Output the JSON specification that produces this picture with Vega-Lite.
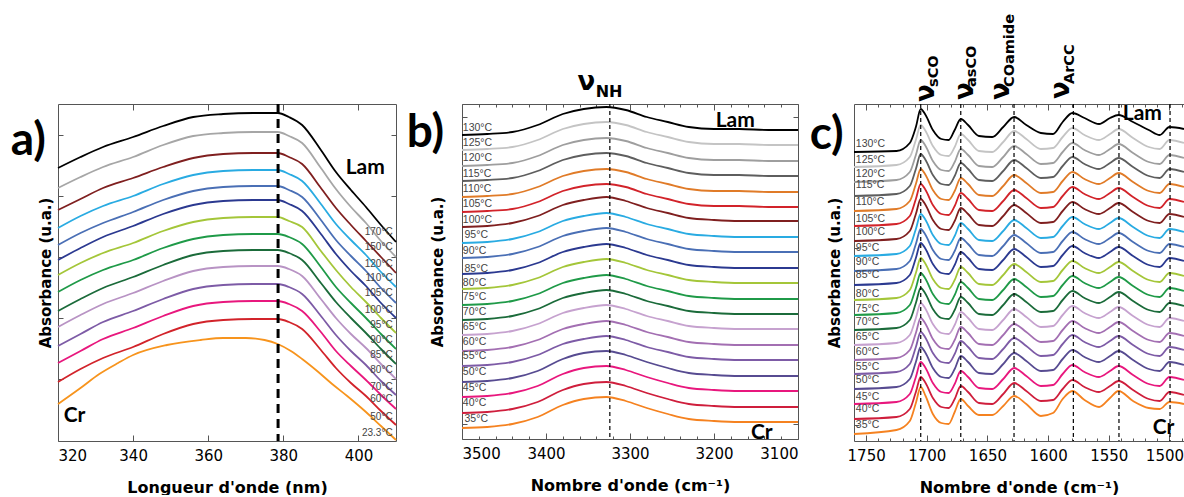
{
"$schema":"https://vega.github.io/schema/vega-lite/v6.json",
"background":"white",
"padding":{"left":10,"top":13,"right":0,"bottom":0},
"bounds":"flush",
"spacing":66,
"config":{"view":{"stroke":null},"axis":{"grid":false,"domainColor":"#555","tickColor":"#555","labelFont":"DejaVu Sans","labelColor":"#000","labelFontSize":15,"titleFont":"DejaVu Sans","titleFontWeight":"bold","titleColor":"#000"}},
"resolve":{"scale":{"color":"independent"}},
"datasets":{
"a":[
{"s":"a170","x":320,"y":273},{"s":"a170","x":326,"y":284},{"s":"a170","x":332,"y":294},{"s":"a170","x":340,"y":304},{"s":"a170","x":348,"y":315},{"s":"a170","x":356,"y":324},{"s":"a170","x":364,"y":327},{"s":"a170","x":372,"y":328},{"s":"a170","x":378.5,"y":328},{"s":"a170","x":381.5,"y":324},{"s":"a170","x":385,"y":316},{"s":"a170","x":390,"y":291},{"s":"a170","x":394,"y":269},{"s":"a170","x":398,"y":251},{"s":"a170","x":402,"y":234},{"s":"a170","x":406,"y":216},{"s":"a170","x":410,"y":199},
{"s":"a150","x":320,"y":253},{"s":"a150","x":326,"y":264},{"s":"a150","x":332,"y":274},{"s":"a150","x":340,"y":284},{"s":"a150","x":348,"y":296},{"s":"a150","x":356,"y":305},{"s":"a150","x":364,"y":308},{"s":"a150","x":372,"y":309},{"s":"a150","x":378.5,"y":309},{"s":"a150","x":381.5,"y":305},{"s":"a150","x":385,"y":298},{"s":"a150","x":390,"y":273},{"s":"a150","x":394,"y":252},{"s":"a150","x":398,"y":234},{"s":"a150","x":402,"y":218},{"s":"a150","x":406,"y":200},{"s":"a150","x":410,"y":184},
{"s":"a120","x":320,"y":231},{"s":"a120","x":326,"y":242},{"s":"a120","x":332,"y":253},{"s":"a120","x":340,"y":263},{"s":"a120","x":348,"y":274},{"s":"a120","x":356,"y":283},{"s":"a120","x":364,"y":287},{"s":"a120","x":372,"y":288},{"s":"a120","x":378.5,"y":288},{"s":"a120","x":381.5,"y":284},{"s":"a120","x":385,"y":277},{"s":"a120","x":390,"y":253},{"s":"a120","x":394,"y":233},{"s":"a120","x":398,"y":216},{"s":"a120","x":402,"y":200},{"s":"a120","x":406,"y":184},{"s":"a120","x":410,"y":168},
{"s":"a110","x":320,"y":213},{"s":"a110","x":326,"y":225},{"s":"a110","x":332,"y":235},{"s":"a110","x":340,"y":245},{"s":"a110","x":348,"y":257},{"s":"a110","x":356,"y":266},{"s":"a110","x":364,"y":270},{"s":"a110","x":372,"y":271},{"s":"a110","x":378.5,"y":271},{"s":"a110","x":381.5,"y":267},{"s":"a110","x":385,"y":260},{"s":"a110","x":390,"y":237},{"s":"a110","x":394,"y":217},{"s":"a110","x":398,"y":201},{"s":"a110","x":402,"y":186},{"s":"a110","x":406,"y":169},{"s":"a110","x":410,"y":154},
{"s":"a105","x":320,"y":196},{"s":"a105","x":326,"y":208},{"s":"a105","x":332,"y":218},{"s":"a105","x":340,"y":229},{"s":"a105","x":348,"y":241},{"s":"a105","x":356,"y":250},{"s":"a105","x":364,"y":254},{"s":"a105","x":372,"y":255},{"s":"a105","x":378.5,"y":255},{"s":"a105","x":381.5,"y":251},{"s":"a105","x":385,"y":244},{"s":"a105","x":390,"y":221},{"s":"a105","x":394,"y":201},{"s":"a105","x":398,"y":185},{"s":"a105","x":402,"y":170},{"s":"a105","x":406,"y":153},{"s":"a105","x":410,"y":138},
{"s":"a100","x":320,"y":181},{"s":"a100","x":326,"y":193},{"s":"a100","x":332,"y":204},{"s":"a100","x":340,"y":215},{"s":"a100","x":348,"y":227},{"s":"a100","x":356,"y":236},{"s":"a100","x":364,"y":240},{"s":"a100","x":372,"y":241},{"s":"a100","x":378.5,"y":241},{"s":"a100","x":381.5,"y":237},{"s":"a100","x":385,"y":230},{"s":"a100","x":390,"y":207},{"s":"a100","x":394,"y":187},{"s":"a100","x":398,"y":170},{"s":"a100","x":402,"y":155},{"s":"a100","x":406,"y":138},{"s":"a100","x":410,"y":123},
{"s":"a95","x":320,"y":166},{"s":"a95","x":326,"y":178},{"s":"a95","x":332,"y":188},{"s":"a95","x":340,"y":198},{"s":"a95","x":348,"y":210},{"s":"a95","x":356,"y":219},{"s":"a95","x":364,"y":223},{"s":"a95","x":372,"y":224},{"s":"a95","x":378.5,"y":224},{"s":"a95","x":381.5,"y":220},{"s":"a95","x":385,"y":214},{"s":"a95","x":390,"y":190},{"s":"a95","x":394,"y":171},{"s":"a95","x":398,"y":154},{"s":"a95","x":402,"y":139},{"s":"a95","x":406,"y":123},{"s":"a95","x":410,"y":108},
{"s":"a90","x":320,"y":149},{"s":"a90","x":326,"y":161},{"s":"a90","x":332,"y":171},{"s":"a90","x":340,"y":181},{"s":"a90","x":348,"y":193},{"s":"a90","x":356,"y":202},{"s":"a90","x":364,"y":206},{"s":"a90","x":372,"y":207},{"s":"a90","x":378.5,"y":207},{"s":"a90","x":381.5,"y":204},{"s":"a90","x":385,"y":197},{"s":"a90","x":390,"y":174},{"s":"a90","x":394,"y":154},{"s":"a90","x":398,"y":138},{"s":"a90","x":402,"y":123},{"s":"a90","x":406,"y":107},{"s":"a90","x":410,"y":92},
{"s":"a85","x":320,"y":130},{"s":"a85","x":326,"y":142},{"s":"a85","x":332,"y":153},{"s":"a85","x":340,"y":164},{"s":"a85","x":348,"y":176},{"s":"a85","x":356,"y":186},{"s":"a85","x":364,"y":190},{"s":"a85","x":372,"y":191},{"s":"a85","x":378.5,"y":191},{"s":"a85","x":381.5,"y":188},{"s":"a85","x":385,"y":181},{"s":"a85","x":390,"y":158},{"s":"a85","x":394,"y":139},{"s":"a85","x":398,"y":123},{"s":"a85","x":402,"y":108},{"s":"a85","x":406,"y":92},{"s":"a85","x":410,"y":77},
{"s":"a80","x":320,"y":114},{"s":"a80","x":326,"y":126},{"s":"a80","x":332,"y":137},{"s":"a80","x":340,"y":148},{"s":"a80","x":348,"y":160},{"s":"a80","x":356,"y":170},{"s":"a80","x":364,"y":174},{"s":"a80","x":372,"y":175},{"s":"a80","x":378.5,"y":175},{"s":"a80","x":381.5,"y":172},{"s":"a80","x":385,"y":165},{"s":"a80","x":390,"y":142},{"s":"a80","x":394,"y":123},{"s":"a80","x":398,"y":107},{"s":"a80","x":402,"y":93},{"s":"a80","x":406,"y":77},{"s":"a80","x":410,"y":62},
{"s":"a70","x":320,"y":95},{"s":"a70","x":326,"y":107},{"s":"a70","x":332,"y":119},{"s":"a70","x":340,"y":130},{"s":"a70","x":348,"y":142},{"s":"a70","x":356,"y":152},{"s":"a70","x":364,"y":156},{"s":"a70","x":372,"y":157},{"s":"a70","x":378.5,"y":157},{"s":"a70","x":381.5,"y":154},{"s":"a70","x":385,"y":147},{"s":"a70","x":390,"y":125},{"s":"a70","x":394,"y":106},{"s":"a70","x":398,"y":90},{"s":"a70","x":402,"y":76},{"s":"a70","x":406,"y":60},{"s":"a70","x":410,"y":46},
{"s":"a60","x":320,"y":78},{"s":"a60","x":326,"y":90},{"s":"a60","x":332,"y":102},{"s":"a60","x":340,"y":113},{"s":"a60","x":348,"y":125},{"s":"a60","x":356,"y":135},{"s":"a60","x":364,"y":139},{"s":"a60","x":372,"y":140},{"s":"a60","x":378.5,"y":140},{"s":"a60","x":381.5,"y":137},{"s":"a60","x":385,"y":130},{"s":"a60","x":390,"y":109},{"s":"a60","x":394,"y":90},{"s":"a60","x":398,"y":75},{"s":"a60","x":402,"y":61},{"s":"a60","x":406,"y":46},{"s":"a60","x":410,"y":32},
{"s":"a50","x":320,"y":59},{"s":"a50","x":326,"y":72},{"s":"a50","x":332,"y":83},{"s":"a50","x":340,"y":94},{"s":"a50","x":348,"y":107},{"s":"a50","x":356,"y":117},{"s":"a50","x":364,"y":121},{"s":"a50","x":372,"y":122},{"s":"a50","x":378.5,"y":122},{"s":"a50","x":381.5,"y":119},{"s":"a50","x":385,"y":112},{"s":"a50","x":390,"y":91},{"s":"a50","x":394,"y":73},{"s":"a50","x":398,"y":58},{"s":"a50","x":402,"y":45},{"s":"a50","x":406,"y":30},{"s":"a50","x":410,"y":16},
{"s":"a23","x":320,"y":37},{"s":"a23","x":326,"y":53},{"s":"a23","x":331,"y":67},{"s":"a23","x":336,"y":78},{"s":"a23","x":340,"y":86},{"s":"a23","x":349,"y":96},{"s":"a23","x":358,"y":101},{"s":"a23","x":364,"y":103},{"s":"a23","x":370,"y":103},{"s":"a23","x":375,"y":101},{"s":"a23","x":378.5,"y":97},{"s":"a23","x":382,"y":90},{"s":"a23","x":385,"y":82},{"s":"a23","x":389,"y":70},{"s":"a23","x":393,"y":57},{"s":"a23","x":397,"y":45},{"s":"a23","x":402,"y":29},{"s":"a23","x":406,"y":15},{"s":"a23","x":410,"y":1}
],
"b":[
{"s":"b130","x":3500,"y":304},{"s":"b130","x":3470,"y":305},{"s":"b130","x":3440,"y":307},{"s":"b130","x":3410,"y":314},{"s":"b130","x":3380,"y":325},{"s":"b130","x":3355,"y":330},{"s":"b130","x":3328,"y":332},{"s":"b130","x":3305,"y":329},{"s":"b130","x":3280,"y":322},{"s":"b130","x":3255,"y":317},{"s":"b130","x":3230,"y":312},{"s":"b130","x":3200,"y":310},{"s":"b130","x":3170,"y":310},{"s":"b130","x":3135,"y":309},{"s":"b130","x":3100,"y":309},
{"s":"b125","x":3500,"y":289},{"s":"b125","x":3470,"y":290},{"s":"b125","x":3440,"y":292},{"s":"b125","x":3410,"y":299},{"s":"b125","x":3380,"y":310},{"s":"b125","x":3355,"y":315},{"s":"b125","x":3328,"y":317},{"s":"b125","x":3305,"y":314},{"s":"b125","x":3280,"y":307},{"s":"b125","x":3255,"y":302},{"s":"b125","x":3230,"y":297},{"s":"b125","x":3200,"y":295},{"s":"b125","x":3170,"y":295},{"s":"b125","x":3135,"y":294},{"s":"b125","x":3100,"y":294},
{"s":"b120","x":3500,"y":273},{"s":"b120","x":3470,"y":274},{"s":"b120","x":3440,"y":276},{"s":"b120","x":3410,"y":283},{"s":"b120","x":3380,"y":294},{"s":"b120","x":3355,"y":299},{"s":"b120","x":3328,"y":301},{"s":"b120","x":3305,"y":298},{"s":"b120","x":3280,"y":291},{"s":"b120","x":3255,"y":286},{"s":"b120","x":3230,"y":281},{"s":"b120","x":3200,"y":279},{"s":"b120","x":3170,"y":279},{"s":"b120","x":3135,"y":278},{"s":"b120","x":3100,"y":278},
{"s":"b115","x":3500,"y":258},{"s":"b115","x":3470,"y":259},{"s":"b115","x":3440,"y":261},{"s":"b115","x":3410,"y":268},{"s":"b115","x":3380,"y":279},{"s":"b115","x":3355,"y":284},{"s":"b115","x":3328,"y":286},{"s":"b115","x":3305,"y":283},{"s":"b115","x":3280,"y":276},{"s":"b115","x":3255,"y":271},{"s":"b115","x":3230,"y":266},{"s":"b115","x":3200,"y":264},{"s":"b115","x":3170,"y":264},{"s":"b115","x":3135,"y":263},{"s":"b115","x":3100,"y":263},
{"s":"b110","x":3500,"y":242},{"s":"b110","x":3470,"y":243},{"s":"b110","x":3440,"y":245},{"s":"b110","x":3410,"y":252},{"s":"b110","x":3380,"y":263},{"s":"b110","x":3355,"y":268},{"s":"b110","x":3328,"y":270},{"s":"b110","x":3305,"y":267},{"s":"b110","x":3280,"y":260},{"s":"b110","x":3255,"y":255},{"s":"b110","x":3230,"y":250},{"s":"b110","x":3200,"y":248},{"s":"b110","x":3170,"y":248},{"s":"b110","x":3135,"y":247},{"s":"b110","x":3100,"y":247},
{"s":"b105","x":3500,"y":227},{"s":"b105","x":3470,"y":228},{"s":"b105","x":3440,"y":230},{"s":"b105","x":3410,"y":237},{"s":"b105","x":3380,"y":248},{"s":"b105","x":3355,"y":253},{"s":"b105","x":3328,"y":255},{"s":"b105","x":3305,"y":252},{"s":"b105","x":3280,"y":245},{"s":"b105","x":3255,"y":240},{"s":"b105","x":3230,"y":235},{"s":"b105","x":3200,"y":233},{"s":"b105","x":3170,"y":233},{"s":"b105","x":3135,"y":232},{"s":"b105","x":3100,"y":232},
{"s":"b100","x":3500,"y":212},{"s":"b100","x":3470,"y":213},{"s":"b100","x":3440,"y":216},{"s":"b100","x":3410,"y":223},{"s":"b100","x":3380,"y":234},{"s":"b100","x":3355,"y":239},{"s":"b100","x":3328,"y":242},{"s":"b100","x":3305,"y":238},{"s":"b100","x":3280,"y":231},{"s":"b100","x":3255,"y":226},{"s":"b100","x":3230,"y":221},{"s":"b100","x":3200,"y":219},{"s":"b100","x":3170,"y":218},{"s":"b100","x":3135,"y":218},{"s":"b100","x":3100,"y":218},
{"s":"b95","x":3500,"y":196},{"s":"b95","x":3470,"y":197},{"s":"b95","x":3440,"y":200},{"s":"b95","x":3410,"y":207},{"s":"b95","x":3380,"y":218},{"s":"b95","x":3355,"y":223},{"s":"b95","x":3328,"y":226},{"s":"b95","x":3305,"y":222},{"s":"b95","x":3280,"y":215},{"s":"b95","x":3255,"y":210},{"s":"b95","x":3230,"y":205},{"s":"b95","x":3200,"y":203},{"s":"b95","x":3170,"y":202},{"s":"b95","x":3135,"y":202},{"s":"b95","x":3100,"y":202},
{"s":"b90","x":3500,"y":181},{"s":"b90","x":3470,"y":182},{"s":"b90","x":3440,"y":185},{"s":"b90","x":3410,"y":192},{"s":"b90","x":3380,"y":203},{"s":"b90","x":3355,"y":208},{"s":"b90","x":3328,"y":211},{"s":"b90","x":3305,"y":207},{"s":"b90","x":3280,"y":200},{"s":"b90","x":3255,"y":195},{"s":"b90","x":3230,"y":190},{"s":"b90","x":3200,"y":188},{"s":"b90","x":3170,"y":187},{"s":"b90","x":3135,"y":187},{"s":"b90","x":3100,"y":187},
{"s":"b85","x":3500,"y":165},{"s":"b85","x":3470,"y":166},{"s":"b85","x":3440,"y":169},{"s":"b85","x":3410,"y":176},{"s":"b85","x":3380,"y":187},{"s":"b85","x":3355,"y":192},{"s":"b85","x":3328,"y":195},{"s":"b85","x":3305,"y":191},{"s":"b85","x":3280,"y":184},{"s":"b85","x":3255,"y":179},{"s":"b85","x":3230,"y":174},{"s":"b85","x":3200,"y":172},{"s":"b85","x":3170,"y":171},{"s":"b85","x":3135,"y":171},{"s":"b85","x":3100,"y":171},
{"s":"b80","x":3500,"y":150},{"s":"b80","x":3470,"y":151},{"s":"b80","x":3440,"y":154},{"s":"b80","x":3410,"y":161},{"s":"b80","x":3380,"y":172},{"s":"b80","x":3355,"y":177},{"s":"b80","x":3328,"y":180},{"s":"b80","x":3305,"y":176},{"s":"b80","x":3280,"y":169},{"s":"b80","x":3255,"y":164},{"s":"b80","x":3230,"y":159},{"s":"b80","x":3200,"y":157},{"s":"b80","x":3170,"y":156},{"s":"b80","x":3135,"y":156},{"s":"b80","x":3100,"y":156},
{"s":"b75","x":3500,"y":134},{"s":"b75","x":3470,"y":135},{"s":"b75","x":3440,"y":138},{"s":"b75","x":3410,"y":145},{"s":"b75","x":3380,"y":156},{"s":"b75","x":3355,"y":161},{"s":"b75","x":3328,"y":164},{"s":"b75","x":3305,"y":160},{"s":"b75","x":3280,"y":153},{"s":"b75","x":3255,"y":148},{"s":"b75","x":3230,"y":143},{"s":"b75","x":3200,"y":141},{"s":"b75","x":3170,"y":140},{"s":"b75","x":3135,"y":140},{"s":"b75","x":3100,"y":140},
{"s":"b70","x":3500,"y":119},{"s":"b70","x":3470,"y":120},{"s":"b70","x":3440,"y":123},{"s":"b70","x":3410,"y":130},{"s":"b70","x":3380,"y":141},{"s":"b70","x":3355,"y":146},{"s":"b70","x":3328,"y":149},{"s":"b70","x":3305,"y":145},{"s":"b70","x":3280,"y":138},{"s":"b70","x":3255,"y":133},{"s":"b70","x":3230,"y":128},{"s":"b70","x":3200,"y":126},{"s":"b70","x":3170,"y":125},{"s":"b70","x":3135,"y":125},{"s":"b70","x":3100,"y":125},
{"s":"b65","x":3500,"y":104},{"s":"b65","x":3470,"y":105},{"s":"b65","x":3440,"y":108},{"s":"b65","x":3410,"y":115},{"s":"b65","x":3380,"y":126},{"s":"b65","x":3355,"y":131},{"s":"b65","x":3328,"y":134},{"s":"b65","x":3305,"y":130},{"s":"b65","x":3280,"y":123},{"s":"b65","x":3255,"y":118},{"s":"b65","x":3230,"y":113},{"s":"b65","x":3200,"y":111},{"s":"b65","x":3170,"y":110},{"s":"b65","x":3135,"y":110},{"s":"b65","x":3100,"y":110},
{"s":"b60","x":3500,"y":88},{"s":"b60","x":3470,"y":89},{"s":"b60","x":3440,"y":92},{"s":"b60","x":3410,"y":99},{"s":"b60","x":3380,"y":110},{"s":"b60","x":3355,"y":115},{"s":"b60","x":3328,"y":118},{"s":"b60","x":3305,"y":114},{"s":"b60","x":3280,"y":107},{"s":"b60","x":3255,"y":102},{"s":"b60","x":3230,"y":97},{"s":"b60","x":3200,"y":95},{"s":"b60","x":3170,"y":94},{"s":"b60","x":3135,"y":94},{"s":"b60","x":3100,"y":94},
{"s":"b55","x":3500,"y":73},{"s":"b55","x":3470,"y":74},{"s":"b55","x":3440,"y":77},{"s":"b55","x":3410,"y":84},{"s":"b55","x":3380,"y":95},{"s":"b55","x":3355,"y":100},{"s":"b55","x":3328,"y":103},{"s":"b55","x":3305,"y":99},{"s":"b55","x":3280,"y":92},{"s":"b55","x":3255,"y":87},{"s":"b55","x":3230,"y":82},{"s":"b55","x":3200,"y":80},{"s":"b55","x":3170,"y":79},{"s":"b55","x":3135,"y":79},{"s":"b55","x":3100,"y":79},
{"s":"b50","x":3500,"y":57},{"s":"b50","x":3470,"y":58},{"s":"b50","x":3440,"y":61},{"s":"b50","x":3410,"y":68},{"s":"b50","x":3380,"y":80},{"s":"b50","x":3355,"y":86},{"s":"b50","x":3328,"y":88},{"s":"b50","x":3305,"y":84},{"s":"b50","x":3280,"y":77},{"s":"b50","x":3255,"y":71},{"s":"b50","x":3230,"y":66},{"s":"b50","x":3200,"y":64},{"s":"b50","x":3170,"y":63},{"s":"b50","x":3135,"y":63},{"s":"b50","x":3100,"y":63},
{"s":"b45","x":3500,"y":42},{"s":"b45","x":3470,"y":43},{"s":"b45","x":3440,"y":46},{"s":"b45","x":3410,"y":53},{"s":"b45","x":3380,"y":65},{"s":"b45","x":3355,"y":71},{"s":"b45","x":3328,"y":73},{"s":"b45","x":3305,"y":69},{"s":"b45","x":3280,"y":62},{"s":"b45","x":3255,"y":56},{"s":"b45","x":3230,"y":51},{"s":"b45","x":3200,"y":49},{"s":"b45","x":3170,"y":48},{"s":"b45","x":3135,"y":48},{"s":"b45","x":3100,"y":48},
{"s":"b40","x":3500,"y":26},{"s":"b40","x":3470,"y":27},{"s":"b40","x":3440,"y":30},{"s":"b40","x":3410,"y":37},{"s":"b40","x":3380,"y":49},{"s":"b40","x":3355,"y":55},{"s":"b40","x":3328,"y":57},{"s":"b40","x":3305,"y":53},{"s":"b40","x":3280,"y":46},{"s":"b40","x":3255,"y":40},{"s":"b40","x":3230,"y":35},{"s":"b40","x":3200,"y":33},{"s":"b40","x":3170,"y":32},{"s":"b40","x":3135,"y":32},{"s":"b40","x":3100,"y":32},
{"s":"b35","x":3500,"y":11},{"s":"b35","x":3470,"y":12},{"s":"b35","x":3440,"y":15},{"s":"b35","x":3410,"y":22},{"s":"b35","x":3380,"y":34},{"s":"b35","x":3355,"y":40},{"s":"b35","x":3328,"y":42},{"s":"b35","x":3305,"y":38},{"s":"b35","x":3280,"y":31},{"s":"b35","x":3255,"y":25},{"s":"b35","x":3230,"y":20},{"s":"b35","x":3200,"y":18},{"s":"b35","x":3170,"y":17},{"s":"b35","x":3135,"y":17},{"s":"b35","x":3100,"y":17}
],
"c":[
{"s":"c130","x":1760,"y":289},{"s":"c130","x":1725,"y":290},{"s":"c130","x":1714,"y":298},{"s":"c130","x":1709,"y":314},{"s":"c130","x":1705,"y":332},{"s":"c130","x":1701,"y":326},{"s":"c130","x":1695,"y":311},{"s":"c130","x":1688,"y":302},{"s":"c130","x":1682,"y":301},{"s":"c130","x":1677,"y":311},{"s":"c130","x":1672,"y":322},{"s":"c130","x":1666,"y":316},{"s":"c130","x":1657,"y":305},{"s":"c130","x":1646,"y":304},{"s":"c130","x":1637,"y":314},{"s":"c130","x":1628,"y":324},{"s":"c130","x":1618,"y":316},{"s":"c130","x":1606,"y":308},{"s":"c130","x":1596,"y":307},{"s":"c130","x":1588,"y":319},{"s":"c130","x":1580,"y":328},{"s":"c130","x":1570,"y":323},{"s":"c130","x":1558,"y":317},{"s":"c130","x":1549,"y":323},{"s":"c130","x":1542,"y":326},{"s":"c130","x":1530,"y":319},{"s":"c130","x":1517,"y":311},{"s":"c130","x":1508,"y":306},{"s":"c130","x":1500,"y":314},{"s":"c130","x":1488,"y":312},
{"s":"c125","x":1760,"y":274},{"s":"c125","x":1725,"y":276},{"s":"c125","x":1714,"y":284},{"s":"c125","x":1709,"y":301},{"s":"c125","x":1705,"y":316},{"s":"c125","x":1701,"y":310},{"s":"c125","x":1695,"y":295},{"s":"c125","x":1688,"y":286},{"s":"c125","x":1682,"y":285},{"s":"c125","x":1677,"y":294},{"s":"c125","x":1672,"y":307},{"s":"c125","x":1666,"y":301},{"s":"c125","x":1657,"y":290},{"s":"c125","x":1646,"y":289},{"s":"c125","x":1637,"y":299},{"s":"c125","x":1628,"y":310},{"s":"c125","x":1618,"y":302},{"s":"c125","x":1606,"y":292},{"s":"c125","x":1596,"y":293},{"s":"c125","x":1588,"y":304},{"s":"c125","x":1580,"y":313},{"s":"c125","x":1570,"y":306},{"s":"c125","x":1558,"y":301},{"s":"c125","x":1549,"y":307},{"s":"c125","x":1542,"y":312},{"s":"c125","x":1530,"y":303},{"s":"c125","x":1517,"y":294},{"s":"c125","x":1508,"y":292},{"s":"c125","x":1500,"y":301},{"s":"c125","x":1488,"y":298},
{"s":"c120","x":1760,"y":259},{"s":"c120","x":1725,"y":261},{"s":"c120","x":1714,"y":269},{"s":"c120","x":1709,"y":286},{"s":"c120","x":1705,"y":301},{"s":"c120","x":1701,"y":295},{"s":"c120","x":1695,"y":280},{"s":"c120","x":1688,"y":271},{"s":"c120","x":1682,"y":270},{"s":"c120","x":1677,"y":279},{"s":"c120","x":1672,"y":292},{"s":"c120","x":1666,"y":286},{"s":"c120","x":1657,"y":275},{"s":"c120","x":1646,"y":274},{"s":"c120","x":1637,"y":284},{"s":"c120","x":1628,"y":295},{"s":"c120","x":1618,"y":287},{"s":"c120","x":1606,"y":277},{"s":"c120","x":1596,"y":278},{"s":"c120","x":1588,"y":289},{"s":"c120","x":1580,"y":298},{"s":"c120","x":1570,"y":291},{"s":"c120","x":1558,"y":286},{"s":"c120","x":1549,"y":292},{"s":"c120","x":1542,"y":297},{"s":"c120","x":1530,"y":288},{"s":"c120","x":1517,"y":279},{"s":"c120","x":1508,"y":277},{"s":"c120","x":1500,"y":286},{"s":"c120","x":1488,"y":283},
{"s":"c115","x":1760,"y":245},{"s":"c115","x":1725,"y":247},{"s":"c115","x":1714,"y":255},{"s":"c115","x":1709,"y":272},{"s":"c115","x":1705,"y":287},{"s":"c115","x":1701,"y":281},{"s":"c115","x":1695,"y":266},{"s":"c115","x":1688,"y":257},{"s":"c115","x":1682,"y":256},{"s":"c115","x":1677,"y":265},{"s":"c115","x":1672,"y":278},{"s":"c115","x":1666,"y":272},{"s":"c115","x":1657,"y":261},{"s":"c115","x":1646,"y":260},{"s":"c115","x":1637,"y":270},{"s":"c115","x":1628,"y":281},{"s":"c115","x":1618,"y":273},{"s":"c115","x":1606,"y":263},{"s":"c115","x":1596,"y":264},{"s":"c115","x":1588,"y":275},{"s":"c115","x":1580,"y":284},{"s":"c115","x":1570,"y":277},{"s":"c115","x":1558,"y":272},{"s":"c115","x":1549,"y":278},{"s":"c115","x":1542,"y":283},{"s":"c115","x":1530,"y":274},{"s":"c115","x":1517,"y":265},{"s":"c115","x":1508,"y":263},{"s":"c115","x":1500,"y":272},{"s":"c115","x":1488,"y":269},
{"s":"c110","x":1760,"y":230},{"s":"c110","x":1725,"y":232},{"s":"c110","x":1714,"y":240},{"s":"c110","x":1709,"y":257},{"s":"c110","x":1705,"y":272},{"s":"c110","x":1701,"y":266},{"s":"c110","x":1695,"y":251},{"s":"c110","x":1688,"y":242},{"s":"c110","x":1682,"y":241},{"s":"c110","x":1677,"y":250},{"s":"c110","x":1672,"y":263},{"s":"c110","x":1666,"y":257},{"s":"c110","x":1657,"y":246},{"s":"c110","x":1646,"y":245},{"s":"c110","x":1637,"y":255},{"s":"c110","x":1628,"y":266},{"s":"c110","x":1618,"y":258},{"s":"c110","x":1606,"y":248},{"s":"c110","x":1596,"y":249},{"s":"c110","x":1588,"y":260},{"s":"c110","x":1580,"y":269},{"s":"c110","x":1570,"y":262},{"s":"c110","x":1558,"y":257},{"s":"c110","x":1549,"y":263},{"s":"c110","x":1542,"y":268},{"s":"c110","x":1530,"y":259},{"s":"c110","x":1517,"y":250},{"s":"c110","x":1508,"y":248},{"s":"c110","x":1500,"y":257},{"s":"c110","x":1488,"y":254},
{"s":"c105","x":1760,"y":215},{"s":"c105","x":1725,"y":217},{"s":"c105","x":1714,"y":225},{"s":"c105","x":1709,"y":242},{"s":"c105","x":1705,"y":257},{"s":"c105","x":1701,"y":251},{"s":"c105","x":1695,"y":236},{"s":"c105","x":1688,"y":227},{"s":"c105","x":1682,"y":226},{"s":"c105","x":1677,"y":235},{"s":"c105","x":1672,"y":248},{"s":"c105","x":1666,"y":242},{"s":"c105","x":1657,"y":231},{"s":"c105","x":1646,"y":230},{"s":"c105","x":1637,"y":240},{"s":"c105","x":1628,"y":251},{"s":"c105","x":1618,"y":243},{"s":"c105","x":1606,"y":233},{"s":"c105","x":1596,"y":234},{"s":"c105","x":1588,"y":245},{"s":"c105","x":1580,"y":254},{"s":"c105","x":1570,"y":247},{"s":"c105","x":1558,"y":242},{"s":"c105","x":1549,"y":248},{"s":"c105","x":1542,"y":253},{"s":"c105","x":1530,"y":244},{"s":"c105","x":1517,"y":235},{"s":"c105","x":1508,"y":233},{"s":"c105","x":1500,"y":242},{"s":"c105","x":1488,"y":239},
{"s":"c100","x":1760,"y":200},{"s":"c100","x":1725,"y":202},{"s":"c100","x":1714,"y":210},{"s":"c100","x":1709,"y":227},{"s":"c100","x":1705,"y":242},{"s":"c100","x":1701,"y":236},{"s":"c100","x":1695,"y":221},{"s":"c100","x":1688,"y":212},{"s":"c100","x":1682,"y":211},{"s":"c100","x":1677,"y":220},{"s":"c100","x":1672,"y":233},{"s":"c100","x":1666,"y":227},{"s":"c100","x":1657,"y":216},{"s":"c100","x":1646,"y":215},{"s":"c100","x":1637,"y":225},{"s":"c100","x":1628,"y":236},{"s":"c100","x":1618,"y":228},{"s":"c100","x":1606,"y":218},{"s":"c100","x":1596,"y":219},{"s":"c100","x":1588,"y":230},{"s":"c100","x":1580,"y":239},{"s":"c100","x":1570,"y":232},{"s":"c100","x":1558,"y":227},{"s":"c100","x":1549,"y":233},{"s":"c100","x":1542,"y":238},{"s":"c100","x":1530,"y":229},{"s":"c100","x":1517,"y":220},{"s":"c100","x":1508,"y":218},{"s":"c100","x":1500,"y":227},{"s":"c100","x":1488,"y":224},
{"s":"c95","x":1760,"y":185},{"s":"c95","x":1725,"y":187},{"s":"c95","x":1714,"y":195},{"s":"c95","x":1709,"y":212},{"s":"c95","x":1705,"y":227},{"s":"c95","x":1701,"y":221},{"s":"c95","x":1695,"y":206},{"s":"c95","x":1688,"y":197},{"s":"c95","x":1682,"y":196},{"s":"c95","x":1677,"y":205},{"s":"c95","x":1672,"y":218},{"s":"c95","x":1666,"y":212},{"s":"c95","x":1657,"y":201},{"s":"c95","x":1646,"y":200},{"s":"c95","x":1637,"y":210},{"s":"c95","x":1628,"y":221},{"s":"c95","x":1618,"y":213},{"s":"c95","x":1606,"y":203},{"s":"c95","x":1596,"y":204},{"s":"c95","x":1588,"y":215},{"s":"c95","x":1580,"y":224},{"s":"c95","x":1570,"y":217},{"s":"c95","x":1558,"y":212},{"s":"c95","x":1549,"y":218},{"s":"c95","x":1542,"y":223},{"s":"c95","x":1530,"y":214},{"s":"c95","x":1517,"y":205},{"s":"c95","x":1508,"y":203},{"s":"c95","x":1500,"y":212},{"s":"c95","x":1488,"y":209},
{"s":"c90","x":1760,"y":170},{"s":"c90","x":1725,"y":172},{"s":"c90","x":1714,"y":180},{"s":"c90","x":1709,"y":197},{"s":"c90","x":1705,"y":212},{"s":"c90","x":1701,"y":206},{"s":"c90","x":1695,"y":191},{"s":"c90","x":1688,"y":182},{"s":"c90","x":1682,"y":181},{"s":"c90","x":1677,"y":190},{"s":"c90","x":1672,"y":203},{"s":"c90","x":1666,"y":197},{"s":"c90","x":1657,"y":186},{"s":"c90","x":1646,"y":185},{"s":"c90","x":1637,"y":195},{"s":"c90","x":1628,"y":206},{"s":"c90","x":1618,"y":198},{"s":"c90","x":1606,"y":188},{"s":"c90","x":1596,"y":189},{"s":"c90","x":1588,"y":200},{"s":"c90","x":1580,"y":209},{"s":"c90","x":1570,"y":202},{"s":"c90","x":1558,"y":197},{"s":"c90","x":1549,"y":203},{"s":"c90","x":1542,"y":208},{"s":"c90","x":1530,"y":199},{"s":"c90","x":1517,"y":190},{"s":"c90","x":1508,"y":188},{"s":"c90","x":1500,"y":197},{"s":"c90","x":1488,"y":194},
{"s":"c85","x":1760,"y":156},{"s":"c85","x":1725,"y":158},{"s":"c85","x":1714,"y":166},{"s":"c85","x":1709,"y":183},{"s":"c85","x":1705,"y":198},{"s":"c85","x":1701,"y":192},{"s":"c85","x":1695,"y":177},{"s":"c85","x":1688,"y":168},{"s":"c85","x":1682,"y":167},{"s":"c85","x":1677,"y":176},{"s":"c85","x":1672,"y":189},{"s":"c85","x":1666,"y":183},{"s":"c85","x":1657,"y":172},{"s":"c85","x":1646,"y":171},{"s":"c85","x":1637,"y":181},{"s":"c85","x":1628,"y":192},{"s":"c85","x":1618,"y":184},{"s":"c85","x":1606,"y":174},{"s":"c85","x":1596,"y":175},{"s":"c85","x":1588,"y":186},{"s":"c85","x":1580,"y":195},{"s":"c85","x":1570,"y":188},{"s":"c85","x":1558,"y":183},{"s":"c85","x":1549,"y":189},{"s":"c85","x":1542,"y":194},{"s":"c85","x":1530,"y":185},{"s":"c85","x":1517,"y":176},{"s":"c85","x":1508,"y":174},{"s":"c85","x":1500,"y":183},{"s":"c85","x":1488,"y":180},
{"s":"c80","x":1760,"y":141},{"s":"c80","x":1725,"y":143},{"s":"c80","x":1714,"y":151},{"s":"c80","x":1709,"y":168},{"s":"c80","x":1705,"y":183},{"s":"c80","x":1701,"y":177},{"s":"c80","x":1695,"y":162},{"s":"c80","x":1688,"y":153},{"s":"c80","x":1682,"y":152},{"s":"c80","x":1677,"y":161},{"s":"c80","x":1672,"y":174},{"s":"c80","x":1666,"y":168},{"s":"c80","x":1657,"y":157},{"s":"c80","x":1646,"y":156},{"s":"c80","x":1637,"y":166},{"s":"c80","x":1628,"y":177},{"s":"c80","x":1618,"y":169},{"s":"c80","x":1606,"y":159},{"s":"c80","x":1596,"y":160},{"s":"c80","x":1588,"y":171},{"s":"c80","x":1580,"y":180},{"s":"c80","x":1570,"y":173},{"s":"c80","x":1558,"y":168},{"s":"c80","x":1549,"y":174},{"s":"c80","x":1542,"y":179},{"s":"c80","x":1530,"y":170},{"s":"c80","x":1517,"y":161},{"s":"c80","x":1508,"y":159},{"s":"c80","x":1500,"y":168},{"s":"c80","x":1488,"y":165},
{"s":"c75","x":1760,"y":126},{"s":"c75","x":1725,"y":128},{"s":"c75","x":1714,"y":136},{"s":"c75","x":1709,"y":153},{"s":"c75","x":1705,"y":168},{"s":"c75","x":1701,"y":162},{"s":"c75","x":1695,"y":147},{"s":"c75","x":1688,"y":138},{"s":"c75","x":1682,"y":137},{"s":"c75","x":1677,"y":146},{"s":"c75","x":1672,"y":159},{"s":"c75","x":1666,"y":153},{"s":"c75","x":1657,"y":142},{"s":"c75","x":1646,"y":141},{"s":"c75","x":1637,"y":151},{"s":"c75","x":1628,"y":162},{"s":"c75","x":1618,"y":154},{"s":"c75","x":1606,"y":144},{"s":"c75","x":1596,"y":145},{"s":"c75","x":1588,"y":156},{"s":"c75","x":1580,"y":165},{"s":"c75","x":1570,"y":158},{"s":"c75","x":1558,"y":153},{"s":"c75","x":1549,"y":159},{"s":"c75","x":1542,"y":164},{"s":"c75","x":1530,"y":155},{"s":"c75","x":1517,"y":146},{"s":"c75","x":1508,"y":144},{"s":"c75","x":1500,"y":153},{"s":"c75","x":1488,"y":150},
{"s":"c70","x":1760,"y":111},{"s":"c70","x":1725,"y":113},{"s":"c70","x":1714,"y":121},{"s":"c70","x":1709,"y":138},{"s":"c70","x":1705,"y":153},{"s":"c70","x":1701,"y":147},{"s":"c70","x":1695,"y":132},{"s":"c70","x":1688,"y":123},{"s":"c70","x":1682,"y":122},{"s":"c70","x":1677,"y":131},{"s":"c70","x":1672,"y":144},{"s":"c70","x":1666,"y":138},{"s":"c70","x":1657,"y":127},{"s":"c70","x":1646,"y":126},{"s":"c70","x":1637,"y":136},{"s":"c70","x":1628,"y":147},{"s":"c70","x":1618,"y":139},{"s":"c70","x":1606,"y":129},{"s":"c70","x":1596,"y":130},{"s":"c70","x":1588,"y":141},{"s":"c70","x":1580,"y":150},{"s":"c70","x":1570,"y":143},{"s":"c70","x":1558,"y":138},{"s":"c70","x":1549,"y":144},{"s":"c70","x":1542,"y":149},{"s":"c70","x":1530,"y":140},{"s":"c70","x":1517,"y":131},{"s":"c70","x":1508,"y":129},{"s":"c70","x":1500,"y":138},{"s":"c70","x":1488,"y":135},
{"s":"c65","x":1760,"y":96},{"s":"c65","x":1725,"y":98},{"s":"c65","x":1714,"y":106},{"s":"c65","x":1709,"y":123},{"s":"c65","x":1705,"y":138},{"s":"c65","x":1701,"y":132},{"s":"c65","x":1695,"y":117},{"s":"c65","x":1688,"y":108},{"s":"c65","x":1682,"y":107},{"s":"c65","x":1677,"y":116},{"s":"c65","x":1672,"y":129},{"s":"c65","x":1666,"y":123},{"s":"c65","x":1657,"y":112},{"s":"c65","x":1646,"y":111},{"s":"c65","x":1637,"y":121},{"s":"c65","x":1628,"y":132},{"s":"c65","x":1618,"y":124},{"s":"c65","x":1606,"y":114},{"s":"c65","x":1596,"y":115},{"s":"c65","x":1588,"y":126},{"s":"c65","x":1580,"y":135},{"s":"c65","x":1570,"y":128},{"s":"c65","x":1558,"y":123},{"s":"c65","x":1549,"y":129},{"s":"c65","x":1542,"y":134},{"s":"c65","x":1530,"y":125},{"s":"c65","x":1517,"y":116},{"s":"c65","x":1508,"y":114},{"s":"c65","x":1500,"y":123},{"s":"c65","x":1488,"y":120},
{"s":"c60","x":1760,"y":81},{"s":"c60","x":1725,"y":83},{"s":"c60","x":1714,"y":91},{"s":"c60","x":1709,"y":108},{"s":"c60","x":1705,"y":123},{"s":"c60","x":1701,"y":117},{"s":"c60","x":1695,"y":102},{"s":"c60","x":1688,"y":93},{"s":"c60","x":1682,"y":92},{"s":"c60","x":1677,"y":101},{"s":"c60","x":1672,"y":114},{"s":"c60","x":1666,"y":108},{"s":"c60","x":1657,"y":97},{"s":"c60","x":1646,"y":96},{"s":"c60","x":1637,"y":106},{"s":"c60","x":1628,"y":117},{"s":"c60","x":1618,"y":109},{"s":"c60","x":1606,"y":99},{"s":"c60","x":1596,"y":100},{"s":"c60","x":1588,"y":111},{"s":"c60","x":1580,"y":120},{"s":"c60","x":1570,"y":113},{"s":"c60","x":1558,"y":108},{"s":"c60","x":1549,"y":114},{"s":"c60","x":1542,"y":119},{"s":"c60","x":1530,"y":110},{"s":"c60","x":1517,"y":101},{"s":"c60","x":1508,"y":99},{"s":"c60","x":1500,"y":108},{"s":"c60","x":1488,"y":105},
{"s":"c55","x":1760,"y":67},{"s":"c55","x":1725,"y":69},{"s":"c55","x":1714,"y":77},{"s":"c55","x":1709,"y":94},{"s":"c55","x":1705,"y":109},{"s":"c55","x":1701,"y":103},{"s":"c55","x":1695,"y":88},{"s":"c55","x":1688,"y":79},{"s":"c55","x":1682,"y":78},{"s":"c55","x":1677,"y":87},{"s":"c55","x":1672,"y":100},{"s":"c55","x":1666,"y":94},{"s":"c55","x":1657,"y":83},{"s":"c55","x":1646,"y":82},{"s":"c55","x":1637,"y":92},{"s":"c55","x":1628,"y":103},{"s":"c55","x":1618,"y":95},{"s":"c55","x":1606,"y":85},{"s":"c55","x":1596,"y":86},{"s":"c55","x":1588,"y":97},{"s":"c55","x":1580,"y":106},{"s":"c55","x":1570,"y":99},{"s":"c55","x":1558,"y":94},{"s":"c55","x":1549,"y":100},{"s":"c55","x":1542,"y":105},{"s":"c55","x":1530,"y":96},{"s":"c55","x":1517,"y":87},{"s":"c55","x":1508,"y":85},{"s":"c55","x":1500,"y":94},{"s":"c55","x":1488,"y":91},
{"s":"c50","x":1760,"y":52},{"s":"c50","x":1725,"y":54},{"s":"c50","x":1714,"y":62},{"s":"c50","x":1709,"y":79},{"s":"c50","x":1705,"y":94},{"s":"c50","x":1701,"y":88},{"s":"c50","x":1695,"y":73},{"s":"c50","x":1688,"y":64},{"s":"c50","x":1682,"y":63},{"s":"c50","x":1677,"y":72},{"s":"c50","x":1672,"y":85},{"s":"c50","x":1666,"y":79},{"s":"c50","x":1657,"y":68},{"s":"c50","x":1646,"y":67},{"s":"c50","x":1637,"y":77},{"s":"c50","x":1628,"y":88},{"s":"c50","x":1618,"y":80},{"s":"c50","x":1606,"y":70},{"s":"c50","x":1596,"y":71},{"s":"c50","x":1588,"y":82},{"s":"c50","x":1580,"y":91},{"s":"c50","x":1570,"y":84},{"s":"c50","x":1558,"y":79},{"s":"c50","x":1549,"y":85},{"s":"c50","x":1542,"y":90},{"s":"c50","x":1530,"y":81},{"s":"c50","x":1517,"y":72},{"s":"c50","x":1508,"y":70},{"s":"c50","x":1500,"y":79},{"s":"c50","x":1488,"y":76},
{"s":"c45","x":1760,"y":37},{"s":"c45","x":1725,"y":39},{"s":"c45","x":1714,"y":47},{"s":"c45","x":1709,"y":64},{"s":"c45","x":1705,"y":79},{"s":"c45","x":1701,"y":73},{"s":"c45","x":1695,"y":58},{"s":"c45","x":1688,"y":49},{"s":"c45","x":1682,"y":48},{"s":"c45","x":1677,"y":57},{"s":"c45","x":1672,"y":70},{"s":"c45","x":1666,"y":64},{"s":"c45","x":1657,"y":53},{"s":"c45","x":1646,"y":52},{"s":"c45","x":1637,"y":62},{"s":"c45","x":1628,"y":73},{"s":"c45","x":1618,"y":65},{"s":"c45","x":1606,"y":55},{"s":"c45","x":1596,"y":56},{"s":"c45","x":1588,"y":67},{"s":"c45","x":1580,"y":76},{"s":"c45","x":1570,"y":69},{"s":"c45","x":1558,"y":64},{"s":"c45","x":1549,"y":70},{"s":"c45","x":1542,"y":75},{"s":"c45","x":1530,"y":66},{"s":"c45","x":1517,"y":57},{"s":"c45","x":1508,"y":55},{"s":"c45","x":1500,"y":64},{"s":"c45","x":1488,"y":61},
{"s":"c40","x":1760,"y":22},{"s":"c40","x":1725,"y":24},{"s":"c40","x":1714,"y":32},{"s":"c40","x":1709,"y":49},{"s":"c40","x":1705,"y":64},{"s":"c40","x":1701,"y":58},{"s":"c40","x":1695,"y":43},{"s":"c40","x":1688,"y":34},{"s":"c40","x":1682,"y":33},{"s":"c40","x":1677,"y":42},{"s":"c40","x":1672,"y":55},{"s":"c40","x":1666,"y":49},{"s":"c40","x":1657,"y":38},{"s":"c40","x":1646,"y":37},{"s":"c40","x":1637,"y":47},{"s":"c40","x":1628,"y":58},{"s":"c40","x":1618,"y":50},{"s":"c40","x":1606,"y":40},{"s":"c40","x":1596,"y":41},{"s":"c40","x":1588,"y":52},{"s":"c40","x":1580,"y":61},{"s":"c40","x":1570,"y":54},{"s":"c40","x":1558,"y":49},{"s":"c40","x":1549,"y":55},{"s":"c40","x":1542,"y":60},{"s":"c40","x":1530,"y":51},{"s":"c40","x":1517,"y":42},{"s":"c40","x":1508,"y":40},{"s":"c40","x":1500,"y":49},{"s":"c40","x":1488,"y":46},
{"s":"c35","x":1760,"y":7},{"s":"c35","x":1725,"y":11},{"s":"c35","x":1714,"y":20},{"s":"c35","x":1709,"y":38},{"s":"c35","x":1705,"y":54},{"s":"c35","x":1701,"y":45},{"s":"c35","x":1695,"y":27},{"s":"c35","x":1688,"y":18},{"s":"c35","x":1682,"y":17},{"s":"c35","x":1677,"y":29},{"s":"c35","x":1672,"y":42},{"s":"c35","x":1666,"y":35},{"s":"c35","x":1657,"y":26},{"s":"c35","x":1646,"y":26},{"s":"c35","x":1637,"y":35},{"s":"c35","x":1628,"y":45},{"s":"c35","x":1618,"y":37},{"s":"c35","x":1606,"y":25},{"s":"c35","x":1596,"y":28},{"s":"c35","x":1588,"y":42},{"s":"c35","x":1580,"y":50},{"s":"c35","x":1570,"y":41},{"s":"c35","x":1558,"y":34},{"s":"c35","x":1549,"y":43},{"s":"c35","x":1542,"y":50},{"s":"c35","x":1530,"y":40},{"s":"c35","x":1517,"y":33},{"s":"c35","x":1508,"y":32},{"s":"c35","x":1500,"y":39},{"s":"c35","x":1488,"y":37}
]
},
"hconcat":[
{
"width":338,"height":337,
"resolve":{"axis":{"x":"independent","y":"independent"}},
"layer":[
{"data":{"name":"a"},"mark":{"type":"line","strokeWidth":1.8,"interpolate":"monotone"},
"encoding":{
"x":{"field":"x","type":"quantitative","scale":{"domain":[320,410],"nice":false,"zero":false},"axis":{"orient":"bottom","values":[320,340,360,380,400],"format":"d","tickSize":-6,"labelPadding":13,"title":"Longueur d'onde (nm)","titleFontSize":16,"titlePadding":16}},
"y":{"field":"y","type":"quantitative","scale":{"domain":[0,337],"nice":false,"zero":false},"axis":{"orient":"left","values":[62,123,184,245,306],"labels":false,"tickSize":-5,"title":"Absorbance (u.a.)","titleFontSize":15,"titlePadding":4}},
"color":{"field":"s","type":"nominal","legend":null,"scale":{"domain":["a170","a150","a120","a110","a105","a100","a95","a90","a85","a80","a70","a60","a50","a23"],"range":["#000000","#a6a6a6","#7f1f1f","#29abe2","#4a6fb5","#2b3990","#a4c639","#1f9a48","#1b6b3a","#b893c4","#7d5ba6","#e8177d","#d2232a","#f7941d"]}}}},
{"data":{"values":[{"x":378.6}]},"mark":{"type":"rule","strokeDash":[9,6],"strokeWidth":3,"color":"#000"},
"encoding":{"x":{"field":"x","type":"quantitative","scale":{"domain":[320,410],"nice":false,"zero":false},"axis":{"orient":"top","values":[340,360,380,400],"labels":false,"tickSize":-6,"title":null}}}},
{"data":{"values":[{"t":"170°C","x":409.1,"y":209},{"t":"150°C","x":409.1,"y":194},{"t":"120°C","x":409.1,"y":177},{"t":"110°C","x":409.1,"y":163},{"t":"105°C","x":409.1,"y":148},{"t":"100°C","x":409.1,"y":131},{"t":"95°C","x":409.1,"y":116},{"t":"90°C","x":409.1,"y":101},{"t":"85°C","x":409.1,"y":86},{"t":"80°C","x":409.1,"y":71},{"t":"70°C","x":409.1,"y":54},{"t":"60°C","x":409.1,"y":42},{"t":"50°C","x":409.1,"y":24},{"t":"23.3°C","x":409.1,"y":8}]},
"mark":{"type":"text","align":"right","baseline":"middle","font":"Liberation Sans","fontSize":10,"color":"#444"},
"encoding":{"x":{"field":"x","type":"quantitative","scale":{"domain":[320,410],"nice":false,"zero":false},"axis":null},
"y":{"field":"y","type":"quantitative","scale":{"domain":[0,337],"nice":false,"zero":false},"axis":{"orient":"right","values":[62,123,184,245,306],"labels":false,"tickSize":-5,"title":null}},"text":{"field":"t"}}},
{"data":{"values":[{"t":"Lam","x":396.6,"y":267},{"t":"Cr","x":321.5,"y":19}]},
"mark":{"type":"text","align":"left","baseline":"alphabetic","font":"Lato","fontWeight":"bold","fontSize":21,"color":"#000"},
"encoding":{"x":{"field":"x","type":"quantitative","scale":{"domain":[320,410],"nice":false,"zero":false},"axis":null},"y":{"field":"y","type":"quantitative","scale":{"domain":[0,337],"nice":false,"zero":false},"axis":null},"text":{"field":"t"}}},
{"data":{"values":[{"t":"a)","x":307.4,"y":286}]},
"mark":{"type":"text","align":"left","baseline":"alphabetic","font":"Lato","fontWeight":"bold","fontSize":46,"color":"#000"},
"encoding":{"x":{"field":"x","type":"quantitative","scale":{"domain":[320,410],"nice":false,"zero":false},"axis":null},"y":{"field":"y","type":"quantitative","scale":{"domain":[0,337],"nice":false,"zero":false},"axis":null},"text":{"field":"t"}}}
]
},
{
"bounds":"flush","spacing":56,
"resolve":{"scale":{"color":"independent"}},
"hconcat":[
{
"width":336,"height":335,
"resolve":{"axis":{"x":"independent","y":"independent"}},
"layer":[
{"data":{"name":"b"},"mark":{"type":"line","strokeWidth":1.8,"interpolate":"monotone"},
"encoding":{
"x":{"field":"x","type":"quantitative","scale":{"domain":[3100,3500],"reverse":true,"nice":false,"zero":false},"axis":{"orient":"bottom","values":[3500,3480,3460,3440,3420,3400,3380,3360,3340,3320,3300,3280,3260,3240,3220,3200,3180,3160,3140,3120,3100],"format":"d","labelExpr":"datum.value % 100 === 0 ? datum.label : ''","tickSize":{"condition":{"test":"datum.value % 100 === 0","value":-6},"value":-3},"labelPadding":13,"title":"Nombre d'onde (cm⁻¹)","titleFontSize":16,"titlePadding":16}},
"y":{"field":"y","type":"quantitative","scale":{"domain":[0,335],"nice":false,"zero":false},"axis":{"orient":"left","values":[15,322],"labels":false,"tickSize":-5,"title":"Absorbance (u.a.)","titleFontSize":15,"titlePadding":16}},
"color":{"field":"s","type":"nominal","legend":null,"scale":{"domain":["b130","b125","b120","b115","b110","b105","b100","b95","b90","b85","b80","b75","b70","b65","b60","b55","b50","b45","b40","b35"],"range":["#000000","#c4c4c4","#9e9e9e","#5e5e5e","#e07b28","#d2232a","#7f1f1f","#29abe2","#4a6fb5","#2b3990","#a4c639","#1f9a48","#1b6b3a","#c6a2cf","#a36fb2","#7d5ba6","#574b91","#e8177d","#cf1e3c","#f58220"]}}}},
{"data":{"values":[{"x":3324}]},"mark":{"type":"rule","strokeDash":[4,3],"strokeWidth":1.2,"color":"#000"},
"encoding":{"x":{"field":"x","type":"quantitative","scale":{"domain":[3100,3500],"reverse":true,"nice":false,"zero":false},"axis":{"orient":"top","values":[3500,3480,3460,3440,3420,3400,3380,3360,3340,3320,3300,3280,3260,3240,3220,3200,3180,3160,3140,3120,3100],"labels":false,"tickSize":{"condition":{"test":"datum.value % 100 === 0","value":-6},"value":-3},"title":null}}}},
{"data":{"values":[{"t":"130°C","x":3499,"y":311},{"t":"125°C","x":3499,"y":296},{"t":"120°C","x":3499,"y":281},{"t":"115°C","x":3499,"y":265},{"t":"110°C","x":3499,"y":250},{"t":"105°C","x":3499,"y":235},{"t":"100°C","x":3499,"y":219},{"t":"95°C","x":3497,"y":204},{"t":"90°C","x":3499,"y":188},{"t":"85°C","x":3497,"y":170},{"t":"80°C","x":3499,"y":156},{"t":"75°C","x":3499,"y":142},{"t":"70°C","x":3499,"y":127},{"t":"65°C","x":3499,"y":112},{"t":"60°C","x":3499,"y":97},{"t":"55°C","x":3499,"y":83},{"t":"50°C","x":3499,"y":67},{"t":"45°C","x":3499,"y":51},{"t":"40°C","x":3499,"y":36},{"t":"35°C","x":3497,"y":20}]},
"mark":{"type":"text","align":"left","baseline":"middle","font":"Liberation Sans","fontSize":10.5,"color":"#444"},
"encoding":{"x":{"field":"x","type":"quantitative","scale":{"domain":[3100,3500],"reverse":true,"nice":false,"zero":false},"axis":null},
"y":{"field":"y","type":"quantitative","scale":{"domain":[0,335],"nice":false,"zero":false},"axis":{"orient":"right","values":[15,322],"labels":false,"tickSize":-5,"title":null}},"text":{"field":"t"}}},
{"data":{"values":[{"t":"Lam","x":3198,"y":312},{"t":"Cr","x":3156,"y":0}]},
"mark":{"type":"text","align":"left","baseline":"alphabetic","font":"Lato","fontWeight":"bold","fontSize":21,"color":"#000"},
"encoding":{"x":{"field":"x","type":"quantitative","scale":{"domain":[3100,3500],"reverse":true,"nice":false,"zero":false},"axis":null},"y":{"field":"y","type":"quantitative","scale":{"domain":[0,335],"nice":false,"zero":false},"axis":null},"text":{"field":"t"}}},
{"data":{"values":[{"t":"b)","x":3565.8,"y":292}]},
"mark":{"type":"text","align":"left","baseline":"alphabetic","font":"Lato","fontWeight":"bold","fontSize":46,"color":"#000"},
"encoding":{"x":{"field":"x","type":"quantitative","scale":{"domain":[3100,3500],"reverse":true,"nice":false,"zero":false},"axis":null},"y":{"field":"y","type":"quantitative","scale":{"domain":[0,335],"nice":false,"zero":false},"axis":null},"text":{"field":"t"}}},
{"data":{"values":[{"t":"ν","x":3362.6,"y":349}]},
"mark":{"type":"text","align":"left","baseline":"alphabetic","font":"DejaVu Sans","fontWeight":"bold","fontSize":26,"color":"#000"},
"encoding":{"x":{"field":"x","type":"quantitative","scale":{"domain":[3100,3500],"reverse":true,"nice":false,"zero":false},"axis":null},"y":{"field":"y","type":"quantitative","scale":{"domain":[0,335],"nice":false,"zero":false},"axis":null},"text":{"field":"t"}}},
{"data":{"values":[{"t":"NH","x":3340.8,"y":342}]},
"mark":{"type":"text","align":"left","baseline":"alphabetic","font":"DejaVu Sans","fontWeight":"bold","fontSize":16,"color":"#000"},
"encoding":{"x":{"field":"x","type":"quantitative","scale":{"domain":[3100,3500],"reverse":true,"nice":false,"zero":false},"axis":null},"y":{"field":"y","type":"quantitative","scale":{"domain":[0,335],"nice":false,"zero":false},"axis":null},"text":{"field":"t"}}}
]
},
{
"width":330,"height":337,
"resolve":{"axis":{"x":"independent","y":"independent"}},
"layer":[
{"data":{"name":"c"},"mark":{"type":"line","strokeWidth":1.8,"interpolate":"monotone","clip":true},
"encoding":{
"x":{"field":"x","type":"quantitative","scale":{"domain":[1488,1760],"reverse":true,"nice":false,"zero":false},"axis":{"orient":"bottom","values":[1750,1740,1730,1720,1710,1700,1690,1680,1670,1660,1650,1640,1630,1620,1610,1600,1590,1580,1570,1560,1550,1540,1530,1520,1510,1500,1490],"format":"d","labelExpr":"datum.value % 50 === 0 ? datum.label : ''","labelOffset":{"condition":{"test":"datum.value === 1500","value":-5},"value":0},"tickSize":{"condition":{"test":"datum.value % 50 === 0","value":-6},"value":-3},"labelPadding":13,"title":"Nombre d'onde (cm⁻¹)","titleFontSize":16,"titlePadding":16}},
"y":{"field":"y","type":"quantitative","scale":{"domain":[0,337],"nice":false,"zero":false},"axis":{"orient":"left","values":[16,193],"labels":false,"tickSize":-5,"title":"Absorbance (u.a.)","titleFontSize":15,"titlePadding":11}},
"color":{"field":"s","type":"nominal","legend":null,"scale":{"domain":["c130","c125","c120","c115","c110","c105","c100","c95","c90","c85","c80","c75","c70","c65","c60","c55","c50","c45","c40","c35"],"range":["#000000","#c4c4c4","#9e9e9e","#5e5e5e","#e07b28","#d2232a","#7f1f1f","#29abe2","#4a6fb5","#2b3990","#a4c639","#1f9a48","#1b6b3a","#c6a2cf","#a36fb2","#7d5ba6","#574b91","#e8177d","#cf1e3c","#f58220"]}}}},
{"data":{"values":[{"x":1705},{"x":1672},{"x":1628.1},{"x":1579.2},{"x":1541.6},{"x":1499.5}]},"mark":{"type":"rule","strokeDash":[4,3],"strokeWidth":1.2,"color":"#000"},
"encoding":{"x":{"field":"x","type":"quantitative","scale":{"domain":[1488,1760],"reverse":true,"nice":false,"zero":false},"axis":{"orient":"top","values":[1750,1740,1730,1720,1710,1700,1690,1680,1670,1660,1650,1640,1630,1620,1610,1600,1590,1580,1570,1560,1550,1540,1530,1520,1510,1500,1490],"labels":false,"tickSize":{"condition":{"test":"datum.value % 50 === 0","value":-6},"value":-3},"title":null}}}},
{"data":{"values":[{"t":"130°C","x":1758.5,"y":297},{"t":"125°C","x":1758.5,"y":281},{"t":"120°C","x":1758.5,"y":267},{"t":"115°C","x":1758.5,"y":256},{"t":"110°C","x":1758.5,"y":239},{"t":"105°C","x":1758.5,"y":222},{"t":"100°C","x":1758.5,"y":209},{"t":"95°C","x":1758.5,"y":193},{"t":"90°C","x":1758.5,"y":179},{"t":"85°C","x":1758.5,"y":166},{"t":"80°C","x":1758.5,"y":147},{"t":"75°C","x":1758.5,"y":132},{"t":"70°C","x":1758.5,"y":119},{"t":"65°C","x":1758.5,"y":104},{"t":"60°C","x":1758.5,"y":89},{"t":"55°C","x":1758.5,"y":74},{"t":"50°C","x":1758.5,"y":61},{"t":"45°C","x":1758.5,"y":44},{"t":"40°C","x":1758.5,"y":32},{"t":"35°C","x":1758.5,"y":16}]},
"mark":{"type":"text","align":"left","baseline":"middle","font":"Liberation Sans","fontSize":10.5,"color":"#444"},
"encoding":{"x":{"field":"x","type":"quantitative","scale":{"domain":[1488,1760],"reverse":true,"nice":false,"zero":false},"axis":null},
"y":{"field":"y","type":"quantitative","scale":{"domain":[0,337],"nice":false,"zero":false},"axis":null},"text":{"field":"t"}}},
{"data":{"values":[{"t":"Lam","x":1538.5,"y":321},{"t":"Cr","x":1513.8,"y":7}]},
"mark":{"type":"text","align":"left","baseline":"alphabetic","font":"Lato","fontWeight":"bold","fontSize":21,"color":"#000"},
"encoding":{"x":{"field":"x","type":"quantitative","scale":{"domain":[1488,1760],"reverse":true,"nice":false,"zero":false},"axis":null},"y":{"field":"y","type":"quantitative","scale":{"domain":[0,337],"nice":false,"zero":false},"axis":null},"text":{"field":"t"}}},
{"data":{"values":[{"t":"c)","x":1796.5,"y":292}]},
"mark":{"type":"text","align":"left","baseline":"alphabetic","font":"Lato","fontWeight":"bold","fontSize":46,"color":"#000"},
"encoding":{"x":{"field":"x","type":"quantitative","scale":{"domain":[1488,1760],"reverse":true,"nice":false,"zero":false},"axis":null},"y":{"field":"y","type":"quantitative","scale":{"domain":[0,337],"nice":false,"zero":false},"axis":null},"text":{"field":"t"}}},
{"data":{"values":[{"t":"ν","x":1694.3,"y":339},{"t":"ν","x":1662.2,"y":341},{"t":"ν","x":1632.5,"y":341},{"t":"ν","x":1583.0,"y":342}]},
"mark":{"type":"text","align":"left","baseline":"alphabetic","angle":270,"font":"DejaVu Sans","fontWeight":"bold","fontSize":26,"color":"#000"},
"encoding":{"x":{"field":"x","type":"quantitative","scale":{"domain":[1488,1760],"reverse":true,"nice":false,"zero":false},"axis":null},"y":{"field":"y","type":"quantitative","scale":{"domain":[0,337],"nice":false,"zero":false},"axis":null},"text":{"field":"t"}}},
{"data":{"values":[{"t":"sCO","x":1691.0,"y":354},{"t":"asCO","x":1659.7,"y":354},{"t":"COamide","x":1628.4,"y":354},{"t":"ArCC","x":1578.9,"y":357}]},
"mark":{"type":"text","align":"left","baseline":"alphabetic","angle":270,"font":"DejaVu Sans","fontWeight":"bold","fontSize":14.5,"color":"#000"},
"encoding":{"x":{"field":"x","type":"quantitative","scale":{"domain":[1488,1760],"reverse":true,"nice":false,"zero":false},"axis":null},"y":{"field":"y","type":"quantitative","scale":{"domain":[0,337],"nice":false,"zero":false},"axis":null},"text":{"field":"t"}}}
]
}
]
}
]
}
